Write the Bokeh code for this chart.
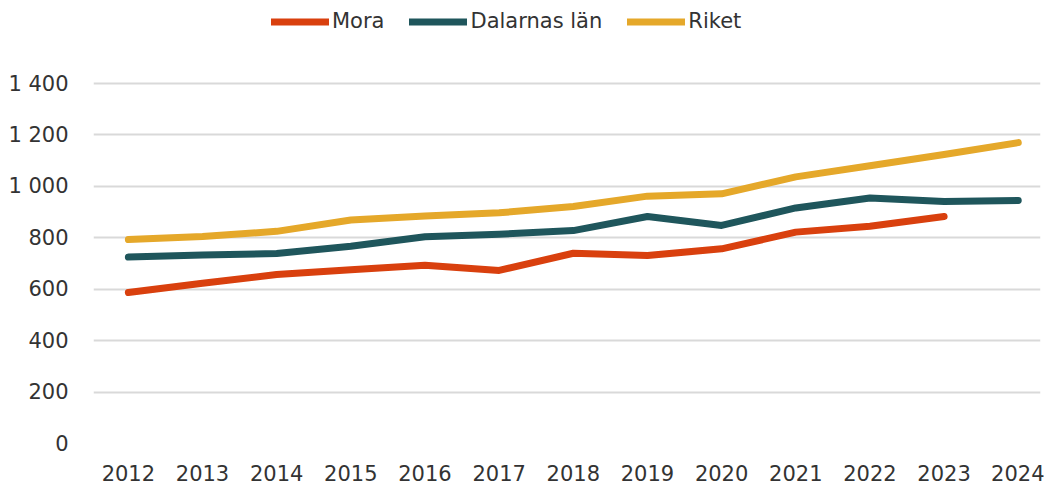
from bokeh.plotting import figure
from bokeh.models import Range1d, FixedTicker, Legend, LegendItem, CustomJSTickFormatter
from bokeh.embed import file_html
from bokeh.resources import INLINE

years = list(range(2012, 2025))
mora = [587, 623, 657, 676, 693, 673, 740, 731, 757, 822, 845, 883]
dalarna = [725, 733, 739, 767, 804, 814, 828, 883, 848, 916, 955, 941, 945]
riket = [793, 805, 825, 869, 885, 897, 922, 962, 971, 1037, 1080, 1124, 1170]
y_ticks = [0, 200, 400, 600, 800, 1000, 1200, 1400]

FONT = "DejaVu Sans"
TXT = "#333333"

p = figure(width=1044, height=484, output_backend="svg", toolbar_location=None,
           x_range=Range1d(2011.53, 2024.3), y_range=Range1d(0, 1691.7),
           min_border_left=93, min_border_right=4, min_border_top=8, min_border_bottom=41)
p.outline_line_color = None
p.background_fill_color = "white"
p.border_fill_color = "white"

r1 = p.line(years[:len(mora)], mora, line_color="#D9400E", line_width=7, line_cap="round", line_join="round")
r2 = p.line(years, dalarna, line_color="#1F565C", line_width=7, line_cap="round", line_join="round")
r3 = p.line(years, riket, line_color="#E5A82A", line_width=7, line_cap="round", line_join="round")

p.xaxis.ticker = FixedTicker(ticks=years)
p.yaxis.ticker = FixedTicker(ticks=y_ticks)
p.yaxis.formatter = CustomJSTickFormatter(code="return tick >= 1000 ? Math.floor(tick/1000) + ' ' + String(tick % 1000).padStart(3,'0') : String(tick);")
for ax in (p.xaxis[0], p.yaxis[0]):
    ax.axis_line_color = None
    ax.major_tick_line_color = None
    ax.minor_tick_line_color = None
    ax.major_label_text_font = FONT
    ax.major_label_text_font_size = "21px"
    ax.major_label_text_color = TXT
p.yaxis.major_label_standoff = 19
p.xaxis.major_label_standoff = 15

p.xgrid.grid_line_color = None
p.ygrid.grid_line_color = "#D9D9D9"
p.ygrid.grid_line_width = 2
p.ygrid.ticker = FixedTicker(ticks=y_ticks)

legend = Legend(items=[LegendItem(label="Mora", renderers=[r1]),
                       LegendItem(label="Dalarnas län", renderers=[r2]),
                       LegendItem(label="Riket", renderers=[r3])],
                orientation="horizontal", location=(178, 410),
                padding=0, margin=0, spacing=25, label_standoff=3,
                glyph_width=58, glyph_height=21, label_height=21,
                label_text_font=FONT, label_text_font_size="21px", label_text_color=TXT,
                border_line_color=None, background_fill_alpha=0)
p.add_layout(legend)

open("out.html", "w").write(file_html(p, INLINE))
